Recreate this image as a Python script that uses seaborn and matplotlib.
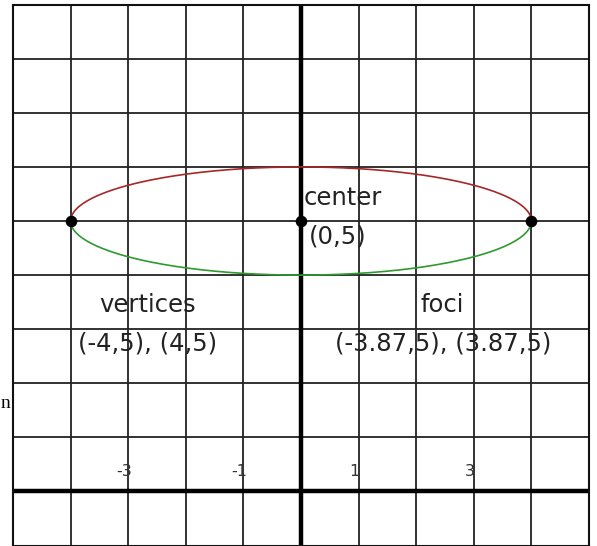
import numpy as np
import pandas as pd
import matplotlib
matplotlib.use("Agg")
import matplotlib.pyplot as plt
import seaborn as sns

# ---- data ----
center = (0, 5)
semi_major = 4
semi_minor = 1
point_x = [-4, 0, 4]          # vertices and center
point_y = [5, 5, 5]
tick_values = [-3, -1, 1, 3]
tick_labels = ["-3", "-1", "1", "3"]
x_range = (-5, 5)
y_range = (-1, 9)

sns.set_style("white")
plt.rcParams['font.family'] = ['DejaVu Sans']

fig = plt.figure(figsize=(5.97, 5.46), dpi=100)
ax = fig.add_axes([13 / 597, 1 - 545.5 / 546, 576 / 597, 540.8 / 546])

# ellipse halves (parametric from centre and semi-axes)
t_up = np.linspace(np.pi, 0, 200)
t_dn = np.linspace(np.pi, 2 * np.pi, 200)
upper = pd.DataFrame({"x": center[0] + semi_major * np.cos(t_up),
                      "y": center[1] + semi_minor * np.sin(t_up)})
lower = pd.DataFrame({"x": center[0] + semi_major * np.cos(t_dn),
                      "y": center[1] + semi_minor * np.sin(t_dn)})

ax.set_xlim(*x_range)
ax.set_ylim(*y_range)
ax.set_xticks(range(x_range[0], x_range[1] + 1))
ax.set_yticks(range(y_range[0], y_range[1] + 1))
ax.grid(True, color="#222222", lw=1.3, zorder=0)
ax.tick_params(length=0, labelbottom=False, labelleft=False)
for s in ax.spines.values():
    s.set_visible(True)
    s.set_color("#111111")
    s.set_linewidth(1.5)
ax.set_axisbelow(True)

ax.axhline(0, color="black", lw=3.2, zorder=2)
ax.axvline(0, color="black", lw=3.2, zorder=2)

sns.lineplot(data=upper, x="x", y="y", sort=False, estimator=None,
             color="#a52828", lw=1.2, ax=ax, zorder=3)
sns.lineplot(data=lower, x="x", y="y", sort=False, estimator=None,
             color="#2f9a2f", lw=1.2, ax=ax, zorder=3)
sns.scatterplot(x=point_x, y=point_y, color="black", s=70, ax=ax,
                zorder=4, edgecolor="black", linewidth=0)

ax.set_xlabel("")
ax.set_ylabel("")

for v, lab in zip(tick_values, tick_labels):
    ax.text(v - 0.07, 0.37, lab, ha="center", va="center",
            fontsize=11.5, color="#333333", zorder=5)

fs = 17.5
ax.text(0.05, 5.42, "center", ha="left", va="center", fontsize=fs, color="#222222", zorder=5)
ax.text(0.63, 4.72, "(0,5)", ha="center", va="center", fontsize=fs, color="#222222", zorder=5)
ax.text(-2.67, 3.44, "vertices", ha="center", va="center", fontsize=fs, color="#222222", zorder=5)
ax.text(-2.66, 2.74, "(-4,5), (4,5)", ha="center", va="center", fontsize=fs, color="#222222", zorder=5)
ax.text(2.45, 3.44, "foci", ha="center", va="center", fontsize=fs, color="#222222", zorder=5)
ax.text(2.46, 2.74, "(-3.87,5), (3.87,5)", ha="center", va="center", fontsize=fs, color="#222222", zorder=5)

fig.text(0.5 / 597, 1 - 408 / 546, "n", ha="left", va="baseline",
         fontsize=14, family=["Liberation Serif", "DejaVu Serif"], color="black")

fig.savefig("out.png", dpi=100)
